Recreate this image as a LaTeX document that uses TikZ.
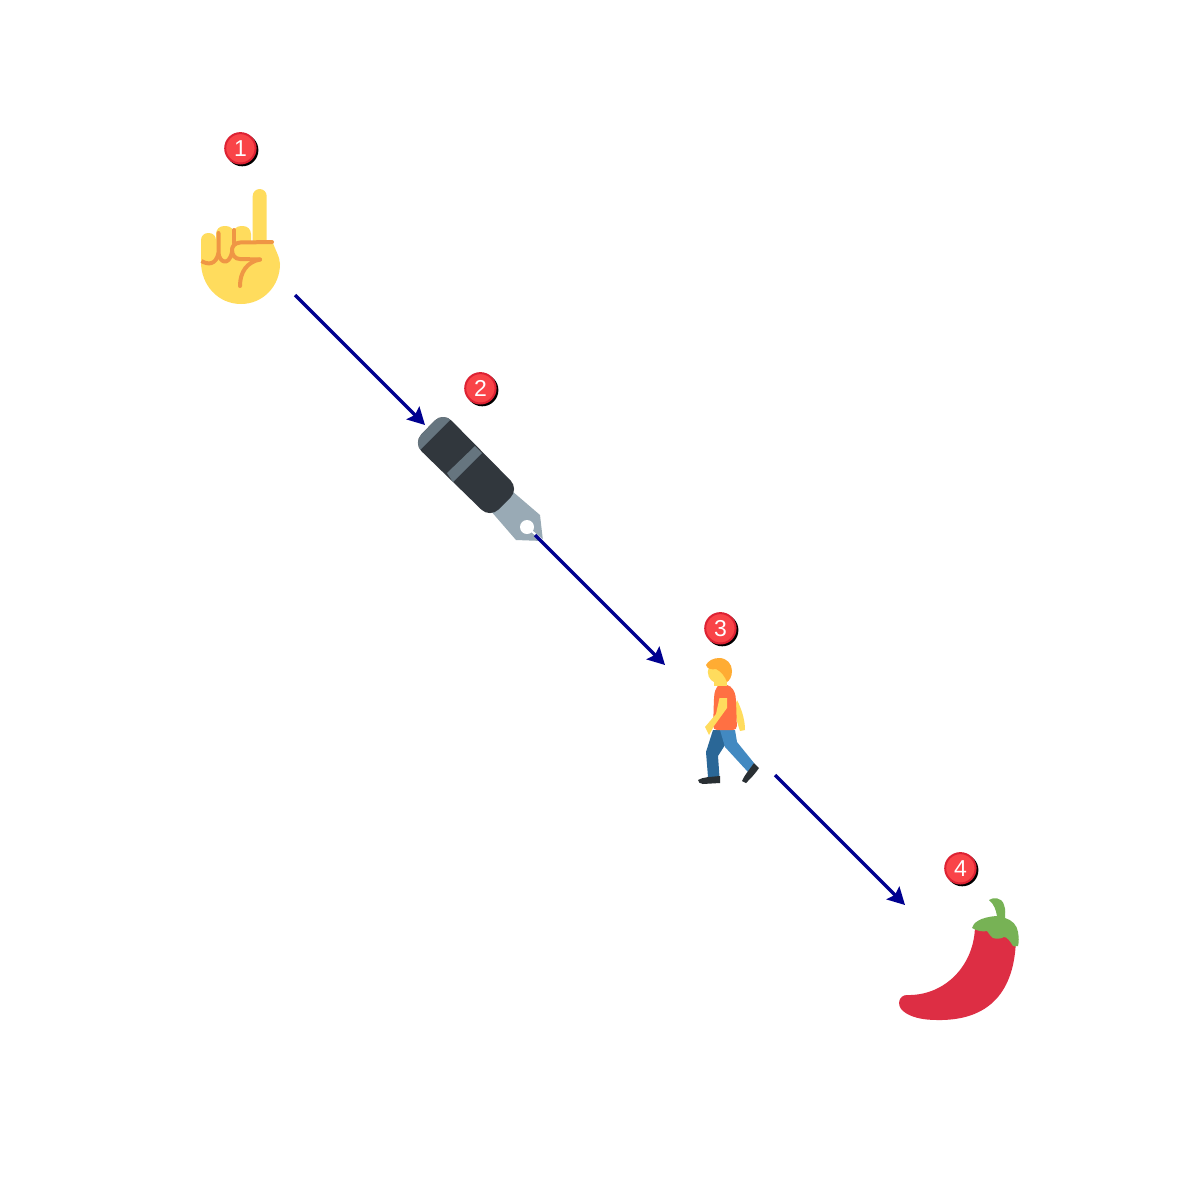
\documentclass[tikz,border=0pt]{standalone}
\usepackage{fontspec}
\setmainfont{Liberation Sans}
\usetikzlibrary{arrows.meta,shadows}
\definecolor{linkblue}{HTML}{000090}
\definecolor{badgered}{HTML}{F94448}
\definecolor{badgeedge}{HTML}{DD2233}
\definecolor{skin}{HTML}{FFDC5D}
\definecolor{crease}{HTML}{EF9645}
\definecolor{pendark}{HTML}{31373D}
\definecolor{pengray}{HTML}{66757F}
\definecolor{nibgray}{HTML}{99AAB5}
\definecolor{hair}{HTML}{FFAC33}
\definecolor{shirt}{HTML}{FF7043}
\definecolor{jeansdark}{HTML}{2A6797}
\definecolor{jeans}{HTML}{4289C1}
\definecolor{shoe}{HTML}{292F33}
\definecolor{chili}{HTML}{DD2E44}
\definecolor{leaf}{HTML}{77B255}
\tikzset{
  iconbox/.style={rectangle,minimum size=55pt,inner sep=0pt,outer sep=0pt},
  badge/.style={circle,minimum size=15.2pt,inner sep=0pt,outer sep=0pt,fill=badgered,draw=badgeedge,line width=1pt,
    text=white,font=\fontsize{11.5}{11.5}\selectfont,
    copy shadow={shadow xshift=0.9pt,shadow yshift=-0.9pt,fill=black,draw=black,opacity=1}},
  link/.style={draw=linkblue,line width=1.6pt,-{Stealth[length=8.5pt,width=9pt,inset=1.4pt]}},
  creaseline/.style={draw=crease,line width=2pt,line cap=round,line join=round},
}
\begin{document}
\begin{tikzpicture}[x=0.5pt,y=-0.5pt]
\useasboundingbox (0,0) rectangle (1200,1200);
\fill[white] (0,0) rectangle (1200,1200);
% anchors
\node[iconbox] (hand) at (240,240) {};
\node[iconbox] (pen) at (480,480) {};
\node[iconbox] (walker) at (720,720) {};
\node[iconbox] (pepper) at (960,960) {};
% hand
\fill[skin] (201,262) .. controls (201,285) and (218,304) .. (241,304)
  .. controls (263,304) and (280,286) .. (280,264)
  .. controls (280,257) and (275,250) .. (272,240) -- (201,245) -- cycle;
\fill[skin,rounded corners=3.5pt] (201,233) rectangle (216,270);
\fill[skin,rounded corners=4pt] (216,226) rectangle (234,265);
\fill[skin,rounded corners=4pt] (233,226) rectangle (251,262);
\fill[skin,rounded corners=3.5pt] (252.7,189) rectangle (266.7,250);
\draw[creaseline] (272,242) -- (240,242.5) .. controls (234,243) and (232,247) .. (232,250)
  .. controls (232,255) and (235,259) .. (240,259) -- (260,259.5);
\draw[creaseline] (260,259.5) .. controls (247,262) and (240,272) .. (240,286);
\draw[creaseline] (234,230) -- (234,243);
\draw[creaseline] (218.5,233) -- (218.5,253) .. controls (219,262) and (229,267) .. (232,252);
\draw[creaseline,line cap=butt] (201.5,261) .. controls (208,265) and (216,265) .. (218.5,253);
% pen
\fill[nibgray] (505,485) -- (540,515) -- (543,541) -- (516,540) -- (490,510) -- cycle;
\fill[white] (527,527) circle[radius=7];
\draw[white,line width=1pt] (527,527) -- (543,541);
\begin{scope}
\clip[rounded corners=6pt] (443,412) -- (413,443) -- (490,518) -- (519,489) -- cycle;
\fill[pendark] (400,400) rectangle (530,530);
\fill[pengray] (400,440) -- (440,400) -- (460,410) -- (422,448) -- (410,460) -- cycle;
\fill[pengray] (475,446) -- (447,473) -- (453,482) -- (482,453) -- cycle;
\end{scope}
% walker
\fill[skin,line join=round] (737,700) .. controls (743,712) and (745,722) .. (745,730) -- (740,731) .. controls (737,722) and (735,715) .. (735,706) -- cycle;
\fill[jeansdark] (713,730) -- (724,730) -- (725,745) -- (718,756) -- (719.5,777) -- (708,777) -- (706,752) -- cycle;
\fill[jeans] (720,730) -- (735,730) -- (737,742) -- (754,763) -- (748,772) -- (725,747) -- cycle;
\fill[shirt,rounded corners=2pt] (723,684) .. controls (732,686) and (735,692) .. (736,700) -- (737,730) -- (713,730) -- (714,697) .. controls (715,690) and (718,685) .. (723,684) -- cycle;
\fill[skin] (719.5,698) -- (727,698) -- (727,708) -- (714,726) -- (709,735) -- (705,727) -- (716,714) -- cycle;
\fill[skin] (719.3,672) circle[radius=11.5];
\fill[skin] (714,680) rectangle (727,686);
\fill[hair] (706,665) .. controls (708,661) and (713,658) .. (719,658)
  .. controls (727,658) and (732,664) .. (732,671) .. controls (732,677) and (729,681) .. (727,682)
  .. controls (725,677) and (722,672) .. (716,669) .. controls (712,670) and (707,669) .. (706,665) -- cycle;
\fill[shoe] (698,780) .. controls (703,777) and (710,777) .. (720,776) -- (720,783) -- (703,784) .. controls (700,784) and (698,782) .. (698,780) -- cycle;
\fill[shoe] (742,781) .. controls (744,776) and (749,770) .. (754,763) -- (759,768) .. controls (755,774) and (750,779) .. (746,783) -- cycle;
% pepper
\fill[chili] (975,925) .. controls (975,965) and (945,996) .. (907,995)
  .. controls (899,995) and (896,1005) .. (903,1011)
  .. controls (910,1017) and (922,1020) .. (937,1020)
  .. controls (995,1021) and (1016,985) .. (1016,935) -- cycle;
\fill[leaf] (989,900) .. controls (993,897) and (1002,897) .. (1004,905) .. controls (1006,910) and (1005,914) .. (1005,918)
  .. controls (1012,920) and (1017,925) .. (1018,932) .. controls (1019,938) and (1019,942) .. (1018,946)
  .. controls (1015,946) and (1014,947) .. (1013,946) .. controls (1010,941) and (1007,937) .. (1004,937)
  .. controls (1001,939) and (996,939) .. (993,938) .. controls (990,936) and (988,932) .. (987,931)
  .. controls (983,932) and (977,931) .. (972,928) .. controls (973,923) and (980,917) .. (997,916)
  .. controls (996,910) and (994,904) .. (989,900) -- cycle;
% connectors
\draw[link] (hand.south east) -- (pen.north west);
\draw[link] (pen.south east) -- (walker.north west);
\draw[link] (walker.south east) -- (pepper.north west);
% badges
\node[badge] (n1) at (240.4,148.3) {1};
\node[badge] (n2) at (480.4,388.3) {2};
\node[badge] (n3) at (720.4,628.3) {3};
\node[badge] (n4) at (960.4,868.3) {4};
\end{tikzpicture}
\end{document}
